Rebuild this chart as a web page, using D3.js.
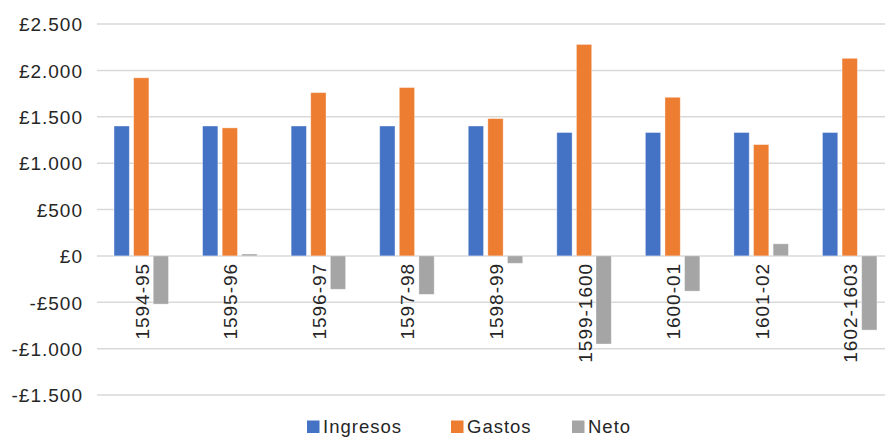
<!DOCTYPE html>
<html>
<head>
<meta charset="utf-8">
<script src="https://cdn.jsdelivr.net/npm/d3@7"></script>
<style>
  html, body { margin: 0; padding: 0; background: #fff; }
  svg { display: block; }
  text { font-family: "Liberation Sans", Arial, Helvetica, sans-serif; fill: #262626; }
</style>
</head>
<body>
<svg id="chart" width="885" height="437"></svg>
<script>
// Exchequer receipts and expenses per financial year (pounds)
const categories = ["1594-95", "1595-96", "1596-97", "1597-98", "1598-99", "1599-1600", "1600-01", "1601-02", "1602-1603"];
const ingresos = [1400, 1400, 1400, 1400, 1400, 1330, 1330, 1330, 1330];
const gastos   = [1920, 1380, 1760, 1815, 1480, 2280, 1710, 1200, 2130];
const neto     = [-520, 20, -360, -415, -80, -950, -380, 130, -800];

const seriesNames = ["Ingresos", "Gastos", "Neto"];
const seriesColors = ["#4472C4", "#ED7D31", "#A5A5A5"];
const yTicks = [-1500, -1000, -500, 0, 500, 1000, 1500, 2000, 2500];

const series = [ingresos, gastos, neto];

const svg = d3.select("#chart");
const W = 885, H = 437;
const margin = { left: 97, right: -9, top: 24, bottom: 42 };

const x = d3.scaleBand()
  .domain(categories)
  .range([margin.left, W - margin.right])
  .padding(0);

const bw = x.bandwidth();
const step = 19.6;
const x1 = d3.scaleBand()
  .domain(seriesNames)
  .range([bw / 2 - 1.5 * step, bw / 2 + 1.5 * step])
  .paddingInner(0.22)
  .paddingOuter(0.11);

const y = d3.scaleLinear()
  .domain([-1500, 2500])
  .range([H - margin.bottom, margin.top]);

const fmt = v => {
  const s = d3.format(",")(Math.abs(v)).replace(/,/g, ".");
  return (v < 0 ? "-" : "") + "£" + s;
};

// horizontal gridlines (the zero line included)
svg.append("g")
  .selectAll("line")
  .data(yTicks)
  .join("line")
  .attr("x1", margin.left)
  .attr("x2", W)
  .attr("y1", d => y(d))
  .attr("y2", d => y(d))
  .attr("stroke", "#d9d9d9")
  .attr("stroke-width", 1.5);

// y axis labels
const yAxis = d3.axisLeft(y).tickValues(yTicks).tickFormat(fmt).tickSize(0).tickPadding(0);
const gy = svg.append("g")
  .attr("transform", `translate(83,0)`)
  .call(yAxis);
gy.select(".domain").remove();
gy.selectAll("text")
  .style("font-family", "'Liberation Sans', Arial, Helvetica, sans-serif")
  .style("font-size", "19px")
  .style("letter-spacing", "1px")
  .attr("fill", "#262626")
  .attr("dy", "0.36em");

// bars
const groups = svg.append("g")
  .selectAll("g")
  .data(categories)
  .join("g")
  .attr("transform", d => `translate(${x(d)},0)`);

groups.selectAll("rect")
  .data((c, i) => seriesNames.map((s, k) => ({ s, k, v: series[k][i] })))
  .join("rect")
  .attr("x", d => x1(d.s))
  .attr("width", x1.bandwidth())
  .attr("y", d => y(Math.max(0, d.v)))
  .attr("height", d => Math.abs(y(d.v) - y(0)))
  .attr("fill", d => seriesColors[d.k])
  .attr("stroke", "#ffffff")
  .attr("stroke-opacity", 0.45)
  .attr("stroke-width", 0.8);

// category labels, rotated, hanging just below the zero line
svg.append("g")
  .selectAll("text")
  .data(categories)
  .join("text")
  .attr("transform", d => `translate(${x(d) + bw / 2 + 7.5},${y(0) + 7}) rotate(-90)`)
  .attr("text-anchor", "end")
  .style("font-size", "19px")
  .style("letter-spacing", "1px")
  .text(d => d);

// legend
const legendItems = [
  { name: "Ingresos", color: seriesColors[0], x: 307 },
  { name: "Gastos", color: seriesColors[1], x: 451 },
  { name: "Neto", color: seriesColors[2], x: 572 }
];
const lg = svg.append("g");
legendItems.forEach(it => {
  lg.append("rect")
    .attr("x", it.x)
    .attr("y", 420.5)
    .attr("width", 12.5)
    .attr("height", 12.5)
    .attr("fill", it.color);
  lg.append("text")
    .attr("x", it.x + 16)
    .attr("y", 432.5)
    .style("font-size", "18.5px")
    .style("letter-spacing", "1px")
    .text(it.name);
});
</script>
</body>
</html>
